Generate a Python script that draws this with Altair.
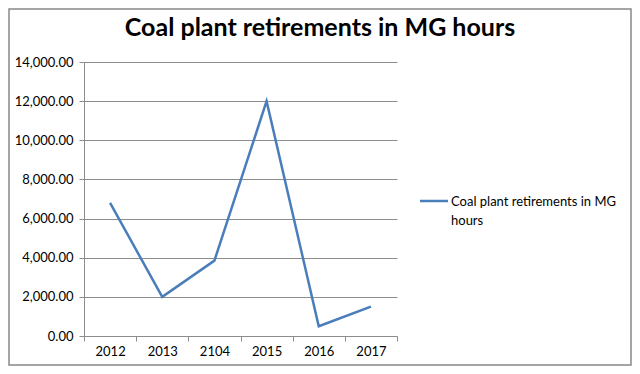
import altair as alt
import pandas as pd

years = ["2012", "2013", "2104", "2015", "2016", "2017"]
values = [6800, 2000, 3850, 12000, 500, 1500]
series_name = "Coal plant retirements in MG hours"
chart_title = "Coal plant retirements in MG hours"
legend_lines = ["Coal plant retirements in MG", "hours"]
y_ticks = [0, 2000, 4000, 6000, 8000, 10000, 12000, 14000]

LINE_COLOR = "#4A7EBB"
GRID = "#8c8c8c"
FONT = "Lato"

df = pd.DataFrame({"year": years, "value": values, "series": series_name})
one = pd.DataFrame({"series": [series_name]})

W, H = 313, 274
PAD = {"left": 76, "top": 54, "right": 235, "bottom": 30}

line = alt.Chart(df).mark_line(strokeWidth=2.5, color=LINE_COLOR).encode(
    x=alt.X(
        "year:O",
        sort=years,
        bandPosition=0.5,
        scale=alt.Scale(type="band", paddingInner=0, paddingOuter=0),
        axis=alt.Axis(
            title=None, labelAngle=0, tickBand="extent", tickSize=5,
            tickColor=GRID, domainColor=GRID, labelFontSize=13,
            labelColor="#000000", labelPadding=4, labelFont=FONT,
        ),
    ),
    y=alt.Y(
        "value:Q",
        scale=alt.Scale(domain=[0, 14000], nice=False),
        axis=alt.Axis(
            title=None, values=y_ticks, format=",.2f", tickSize=5,
            tickColor=GRID, domainColor=GRID, gridColor=GRID, grid=True,
            labelFontSize=13, labelColor="#000000", labelPadding=6, labelFont=FONT,
        ),
    ),
)

leg_rule = alt.Chart(one).mark_rule(strokeWidth=2.5, color=LINE_COLOR).encode(
    x=alt.value(336), x2=alt.value(364), y=alt.value(139)
)
leg_text = alt.Chart(one).mark_text(
    text=legend_lines, align="left", baseline="alphabetic", fontSize=13,
    lineHeight=19, font=FONT, color="#000000"
).encode(x=alt.value(367), y=alt.value(144))

title_text = alt.Chart(one).mark_text(
    text=chart_title, align="center", baseline="middle", fontSize=25,
    fontWeight="bold", font=FONT, color="#000000"
).encode(x=alt.value(236), y=alt.value(-34))

border = alt.Chart(one).mark_rect(fill="transparent", stroke="#888888", strokeWidth=1.5).encode(
    x=alt.value(-PAD["left"] + 1), x2=alt.value(W + PAD["right"] - 1),
    y=alt.value(-PAD["top"] + 1), y2=alt.value(H + PAD["bottom"] - 1),
)

chart = alt.layer(border, line, leg_rule, leg_text, title_text).properties(
    width=W, height=H,
    autosize=alt.AutoSizeParams(type="none"),
    padding=PAD,
).configure_view(stroke=None)

chart.save("out.html", embed_options={"renderer": "svg", "actions": False})
